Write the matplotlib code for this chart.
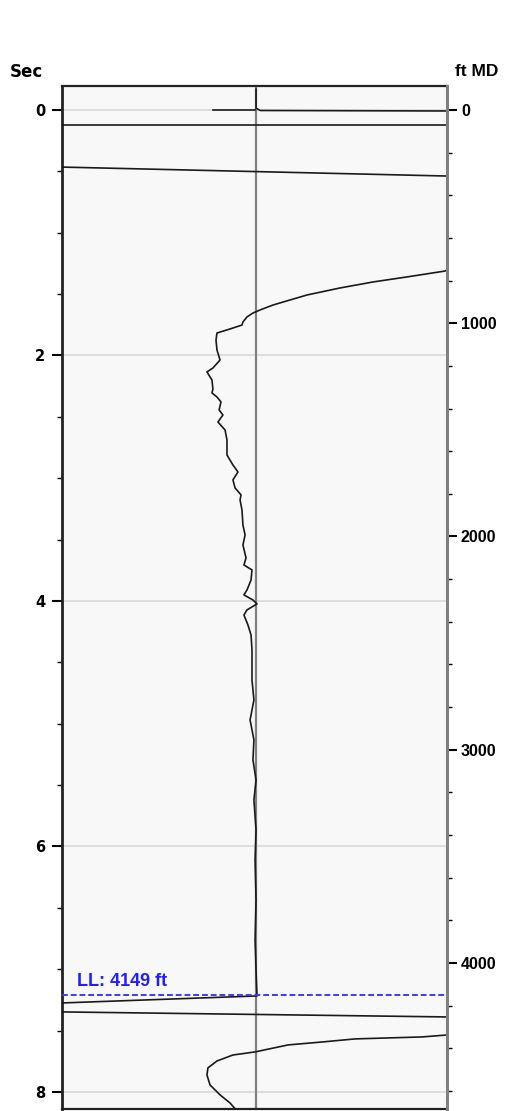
import matplotlib
matplotlib.use('Agg')
import matplotlib.pyplot as plt
from matplotlib.ticker import MultipleLocator
import numpy as np

# track values run from -1 (left edge) to 1 (right edge), time in seconds
ft_per_sec = 575.6
ll_depth = 4149

# short pieces of the trace near the top (wrapped at the track edges)
top_left_x = [-0.215, 0.0]
top_left_t = [0.0, 0.0]
top_spike_x = [0.008, 0.008, 0.03, 1.0]
top_spike_t = [-0.17, -0.015, 0.004, 0.008]
wrap1_x = [-1.0, 1.0]
wrap1_t = [0.122, 0.122]
wrap2_x = [-1.0, 1.0]
wrap2_t = [0.465, 0.538]

# main trace
main_x = [1.0, 0.990, 0.792, 0.616, 0.444, 0.273, 0.184, 0.096, 0.029, -0.008,
          -0.039, -0.060, -0.065, -0.127,
          -0.195, -0.200, -0.195, -0.179, -0.216, -0.247, -0.221, -0.216, -0.221, -0.195,
          -0.174, -0.184, -0.164, -0.190, -0.153, -0.143, -0.143, -0.112, -0.086, -0.112,
          -0.101, -0.070, -0.075, -0.065, -0.060, -0.049, -0.060, -0.044, -0.055, -0.013,
          -0.018, -0.039, -0.055, -0.008, 0.013, -0.039, -0.055, -0.034, -0.018, -0.013,
          -0.013, -0.003, -0.023, -0.003, -0.008, 0.008, -0.003, 0.008, 0.003, 0.008,
          0.003, 0.008, 0.013, -1.0]
main_t = [1.303, 1.312, 1.360, 1.401, 1.450, 1.507, 1.548, 1.589, 1.629, 1.654,
          1.686, 1.727, 1.752, 1.784,
          1.817, 1.874, 1.955, 2.037, 2.102, 2.134, 2.200, 2.273, 2.305, 2.338,
          2.379, 2.444, 2.485, 2.542, 2.607, 2.688, 2.811, 2.892, 2.949, 3.014,
          3.079, 3.136, 3.177, 3.259, 3.381, 3.462, 3.544, 3.650, 3.707, 3.747,
          3.829, 3.910, 3.951, 3.992, 4.024, 4.073, 4.114, 4.196, 4.277, 4.399,
          4.644, 4.807, 4.969, 5.132, 5.295, 5.458, 5.621, 5.866, 6.110, 6.436,
          6.762, 7.006, 7.218, 7.275]

# pieces below the last log depth
wrap3_x = [-1.0, 1.0]
wrap3_t = [7.348, 7.389]
bottom_x = [1.0, 0.870, 0.694, 0.522, 0.351, 0.174, 0.003, -0.112, -0.195, -0.242,
            -0.247, -0.231, -0.179, -0.127, -0.091]
bottom_t = [7.536, 7.552, 7.560, 7.568, 7.593, 7.617, 7.674, 7.699, 7.748, 7.804,
            7.862, 7.943, 8.024, 8.090, 8.155]

segments = [(top_left_x, top_left_t), (top_spike_x, top_spike_t), (wrap1_x, wrap1_t),
            (wrap2_x, wrap2_t), (main_x, main_t), (wrap3_x, wrap3_t), (bottom_x, bottom_t)]

t_top = -0.1955
t_bot = 8.139

fig = plt.figure(figsize=(5.16, 11.11), dpi=100)
ax = fig.add_axes([62/516, 2/1111, 385/516, 1023/1111])
ax.set_facecolor('#f8f8f8')

ax.set_xlim(-1, 1)
ax.set_ylim(t_bot, t_top)
ax.grid(axis='y', which='major', color='#dcdcdc', lw=1.3)
ax.axvline(0.01, color='#808080', lw=1.6, zorder=2)

for sx, st in segments:
    ax.plot(sx, st, color='#1a1a1a', lw=1.2, zorder=3, clip_on=True)

# left axis (two-way time)
ax.set_xticks([])
ax.yaxis.set_major_locator(MultipleLocator(2))
ax.yaxis.set_minor_locator(MultipleLocator(0.5))
ax.tick_params(axis='y', which='major', length=7, width=1.5, pad=5, labelsize=10.5)
ax.tick_params(axis='y', which='minor', length=3.5, width=1.0)
for lab in ax.get_yticklabels():
    lab.set_fontweight('bold')
    lab.set_family('DejaVu Sans')
for side in ['left', 'top', 'bottom']:
    ax.spines[side].set_color('#222222')
ax.spines['left'].set_linewidth(2.0)
ax.spines['top'].set_linewidth(1.6)
ax.spines['bottom'].set_linewidth(1.6)
ax.spines['right'].set_visible(False)

# right axis (measured depth)
ax2 = ax.twinx()
ax2.set_ylim(t_bot*ft_per_sec, t_top*ft_per_sec)
ax2.yaxis.set_major_locator(MultipleLocator(1000))
ax2.yaxis.set_minor_locator(MultipleLocator(200))
ax2.tick_params(axis='y', which='major', length=7, width=1.5, pad=3, labelsize=11.5)
ax2.tick_params(axis='y', which='minor', length=3.5, width=1.0)
for lab in ax2.get_yticklabels():
    lab.set_fontweight('bold')
    lab.set_family('Liberation Sans')
for side in ['left', 'top', 'bottom']:
    ax2.spines[side].set_visible(False)
ax2.spines['right'].set_color('#808080')
ax2.spines['right'].set_linewidth(2.2)

ax2.axhline(ll_depth, color='#3a3aff', lw=1.4, ls=(0, (3, 1.5)), zorder=4)
ax2.text(-0.92, ll_depth - 20, 'LL: ' + str(ll_depth) + ' ft', color='#1e1eff',
         fontsize=13, fontweight='bold', family='Liberation Sans', va='bottom', ha='left')

fig.text(10/516, 1 - 72/1111, 'Sec', fontsize=12, fontweight='bold', family='DejaVu Sans',
         ha='left', va='center')
fig.text(455/516, 1 - 72/1111, 'ft MD', fontsize=12.5, fontweight='bold', family='Liberation Sans',
         ha='left', va='center')

fig.savefig('out.png', dpi=100)
